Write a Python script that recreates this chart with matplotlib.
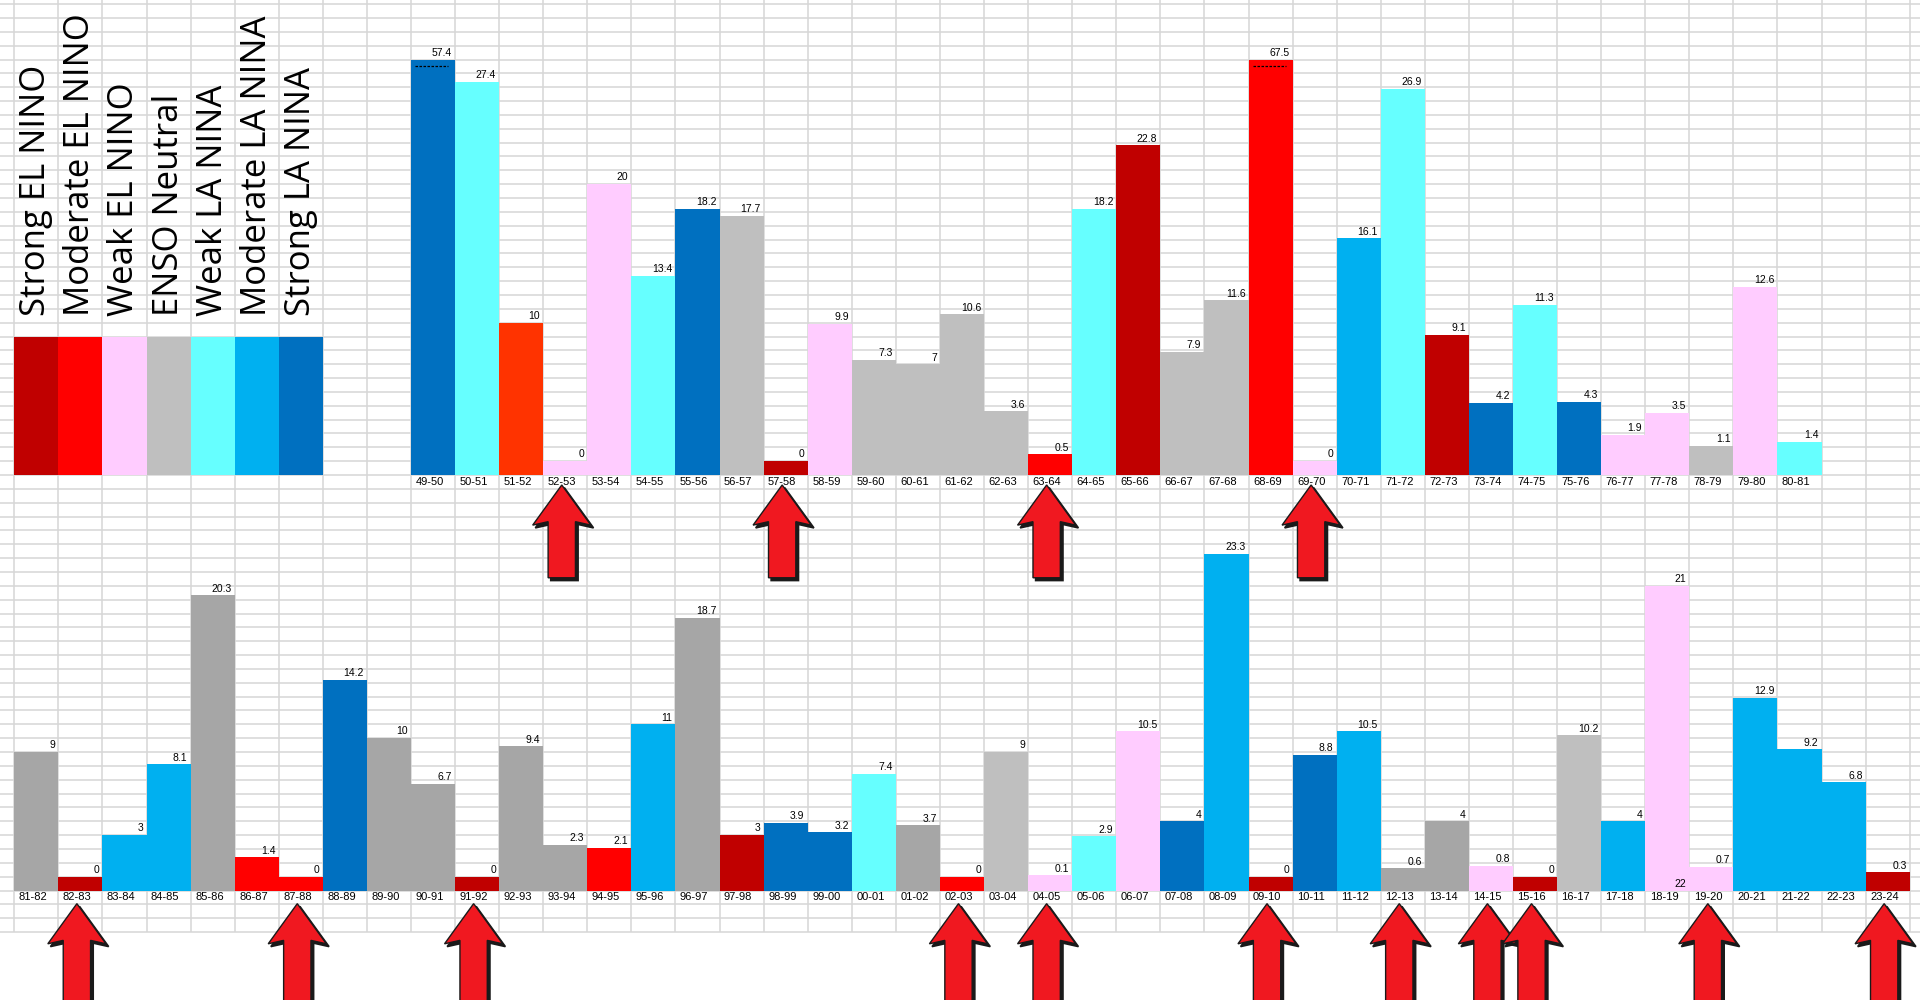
import matplotlib
matplotlib.use('Agg')
import matplotlib.pyplot as plt
import numpy as np
from matplotlib.patches import Polygon

plt.rcParams['font.family'] = ['Liberation Sans', 'DejaVu Sans']

# 1949-50 .. 1980-81
top_seasons = ['49-50', '50-51', '51-52', '52-53', '53-54', '54-55', '55-56', '56-57',
               '57-58', '58-59', '59-60', '60-61', '61-62', '62-63', '63-64', '64-65',
               '65-66', '66-67', '67-68', '68-69', '69-70', '70-71', '71-72', '72-73',
               '73-74', '74-75', '75-76', '76-77', '77-78', '78-79', '79-80', '80-81']
top_values = [57.4, 27.4, 10, 0, 20, 13.4, 18.2, 17.7,
              0, 9.9, 7.3, 7, 10.6, 3.6, 0.5, 18.2,
              22.8, 7.9, 11.6, 67.5, 0, 16.1, 26.9, 9.1,
              4.2, 11.3, 4.3, 1.9, 3.5, 1.1, 12.6, 1.4]
top_phase = ['SL', 'WL', 'ME2', 'WE', 'WE', 'WL', 'SL', 'N',
             'SE', 'WE', 'N', 'N', 'N', 'N', 'ME', 'WL',
             'SE', 'N', 'N', 'ME', 'WE', 'ML', 'WL', 'SE',
             'SL', 'WL', 'SL', 'WE', 'WE', 'N', 'WE', 'WL']

# 1981-82 .. 2023-24
bottom_seasons = ['81-82', '82-83', '83-84', '84-85', '85-86', '86-87', '87-88', '88-89',
                  '89-90', '90-91', '91-92', '92-93', '93-94', '94-95', '95-96', '96-97',
                  '97-98', '98-99', '99-00', '00-01', '01-02', '02-03', '03-04', '04-05',
                  '05-06', '06-07', '07-08', '08-09', '09-10', '10-11', '11-12', '12-13',
                  '13-14', '14-15', '15-16', '16-17', '17-18', '18-19', '19-20', '20-21',
                  '21-22', '22-23', '23-24']
bottom_values = [9, 0, 3, 8.1, 20.3, 1.4, 0, 14.2,
                 10, 6.7, 0, 9.4, 2.3, 2.1, 11, 18.7,
                 3, 3.9, 3.2, 7.4, 3.7, 0, 9, 0.1,
                 2.9, 10.5, 4, 23.3, 0, 8.8, 10.5, 0.6,
                 4, 0.8, 0, 10.2, 4, 21, 0.7, 12.9,
                 9.2, 6.8, 0.3]
bottom_phase = ['N2', 'SE', 'ML', 'ML', 'N2', 'ME', 'ME', 'SL',
                'N2', 'N2', 'SE', 'N2', 'N2', 'ME', 'ML', 'N2',
                'SE', 'SL', 'SL', 'WL', 'N2', 'ME', 'N', 'WE',
                'WL', 'WE', 'SL', 'ML', 'SE', 'SL', 'ML', 'N2',
                'N2', 'WE', 'SE', 'N', 'ML', 'WE', 'WE', 'ML',
                'ML', 'ML', 'SE']
inner_labels = {'18-19': '22'}

top_arrows = ['52-53', '57-58', '63-64', '69-70']
bottom_arrows = ['82-83', '87-88', '91-92', '02-03', '04-05', '09-10',
                 '12-13', '14-15', '15-16', '19-20', '23-24']

legend_names = ['Strong EL NINO', 'Moderate EL NINO', 'Weak EL NINO', 'ENSO Neutral',
                'Weak LA NINA', 'Moderate LA NINA', 'Strong LA NINA']
legend_phase = ['SE', 'ME', 'WE', 'N', 'WL', 'ML', 'SL']

colors = {'SE': '#C00000', 'ME': '#FF0000', 'ME2': '#FF3300', 'WE': '#FFCCFF',
          'N': '#BFBFBF', 'N2': '#A6A6A6', 'WL': '#66FFFF', 'ML': '#00B0F0',
          'SL': '#0070C0'}

# spreadsheet cell geometry in pixels
COL = 44.08
ROW = 13.85
X0 = 14.3
Y0 = 475.0
CAP = 30

fig = plt.figure(figsize=(19.2, 10), dpi=100)
ax = fig.add_axes([0, 0, 1, 1])
ax.set_xlim(-X0 / COL, (1920 - X0) / COL)
ax.set_ylim((Y0 - 1000) / ROW, Y0 / ROW)
ax.axis('off')

# cell grid
grid_bottom = -33
ax.vlines(np.arange(0, 44), grid_bottom, 35, color='#D6D6D6', lw=1.1, zorder=0)
ax.hlines(np.arange(grid_bottom, 35), -1, 45, color='#D6D6D6', lw=1.1, zorder=0)


def draw_chart(seasons, values, phases, x_start, base):
    x = x_start + np.arange(len(seasons)) + 0.5
    vals = np.array(values, dtype=float)
    h = np.minimum(vals + 1, CAP)
    ax.bar(x, h, width=1.0, bottom=base, color=[colors[p] for p in phases],
           linewidth=0, zorder=2)
    for xi, v, hi, s in zip(x, vals, h, seasons):
        ax.text(xi + 0.43, base + hi + 0.12, f'{v:g}', ha='right', va='bottom',
                fontsize=7.5, zorder=3)
        ax.text(xi - 0.4, base - 0.5, s, ha='left', va='center', fontsize=8, zorder=3)
        if v + 1 > CAP:
            ax.plot([xi - 0.4, xi + 0.35], [base + CAP - 0.5] * 2, color='black',
                    ls=(0, (2, 1.2)), lw=0.9, zorder=3)
        if s in inner_labels:
            ax.text(xi + 0.43, base + 0.5, inner_labels[s], ha='right', va='center',
                    fontsize=7.5, zorder=3)
    return dict(zip(seasons, x))


def draw_arrow(cx, tip, shaft):
    hw, sw, hh = 0.66, 0.31, 2.9
    pts = [(cx, tip), (cx + hw, tip - hh), (cx + sw, tip - hh + 0.25),
           (cx + sw, tip - hh - shaft), (cx - sw, tip - hh - shaft),
           (cx - sw, tip - hh + 0.25), (cx - hw, tip - hh)]
    shadow = [(px + 0.06, py - 0.2) for px, py in pts]
    ax.add_patch(Polygon(shadow, closed=True, facecolor='#1a1a1a', edgecolor='#1a1a1a',
                         lw=1.2, zorder=5))
    ax.add_patch(Polygon(pts, closed=True, facecolor='#F01820', edgecolor='#1a1a1a',
                         lw=1.0, zorder=6))


top_x = draw_chart(top_seasons, top_values, top_phase, 9, 0)
bottom_x = draw_chart(bottom_seasons, bottom_values, bottom_phase, 0, -30)

for s in top_arrows:
    draw_arrow(top_x[s] - 0.08, -0.72, 3.8)
for s in bottom_arrows:
    draw_arrow(bottom_x[s] - 0.08, -30.95, 4.3)

# colour key
lx = np.arange(len(legend_names)) + 0.5
ax.bar(lx, 10, width=1.0, bottom=0, color=[colors[p] for p in legend_phase],
       linewidth=0, zorder=2)
for xi, name in zip(lx, legend_names):
    ax.text(xi, 11.5, name, rotation=90, ha='center', va='bottom', fontsize=25,
            family=['Open Sans', 'DejaVu Sans'], zorder=3)

fig.savefig('out.png', dpi=100)
